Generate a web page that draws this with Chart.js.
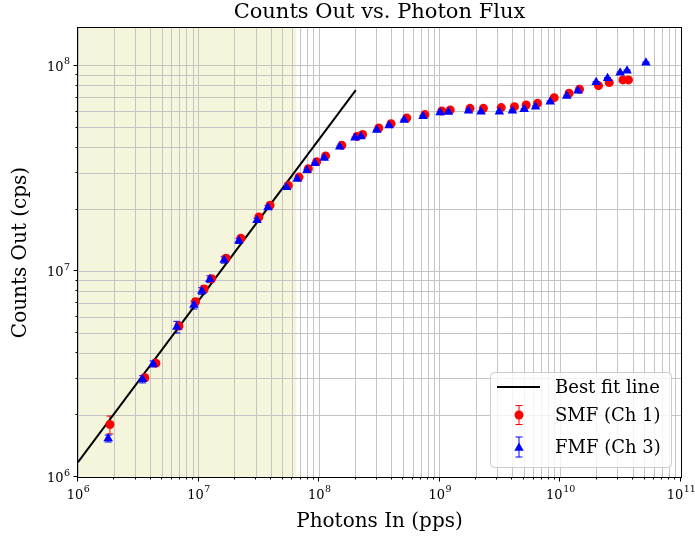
<!DOCTYPE html>
<html><head><meta charset="utf-8">
<script src="https://cdn.jsdelivr.net/npm/chart.js@4.4.0/dist/chart.umd.min.js"></script>
<style>html,body{margin:0;padding:0;background:#fff;}</style>
</head><body>
<canvas id="c" width="695" height="541"></canvas>
<script>
// ---- data ----
const smfX = [1.84e6, 3.58e6, 4.42e6, 6.87e6, 9.44e6, 1.11e7, 1.28e7, 1.69e7, 2.24e7, 3.16e7, 3.91e7, 5.54e7, 6.8e7, 8.13e7, 9.53e7, 1.13e8, 1.54e8, 2.06e8, 2.29e8, 3.12e8, 3.94e8, 5.32e8, 7.52e8, 1.04e9, 1.22e9, 1.78e9, 2.30e9, 3.23e9, 4.16e9, 5.2e9, 6.46e9, 8.88e9, 1.18e10, 1.44e10, 2.07e10, 2.54e10, 3.30e10, 3.67e10];
const smfY = [1.80e6, 3.04e6, 3.58e6, 5.43e6, 7.13e6, 8.22e6, 9.22e6, 1.16e7, 1.45e7, 1.84e7, 2.10e7, 2.62e7, 2.88e7, 3.16e7, 3.42e7, 3.65e7, 4.11e7, 4.54e7, 4.64e7, 4.99e7, 5.24e7, 5.58e7, 5.80e7, 6.04e7, 6.11e7, 6.22e7, 6.22e7, 6.27e7, 6.34e7, 6.46e7, 6.58e7, 7.01e7, 7.37e7, 7.70e7, 8.02e7, 8.30e7, 8.55e7, 8.55e7];
const smfErr = [0.18e6, 0.10e6, 0.10e6, 0.20e6, 0.25e6, 0.30e6, 0.30e6, 0.35e6, 0.40e6, 0.40e6, 0.40e6, 0.30e6, 0.30e6, 0.30e6, 0.30e6, 0.30e6, 0.40e6, 0.40e6, 0.40e6, 0.40e6, 0.40e6, 0.50e6, 0.50e6, 0.50e6, 0.50e6, 0.50e6, 0.50e6, 0.50e6, 0.50e6, 0.50e6, 0.50e6, 0.60e6, 0.60e6, 0.60e6, 0.70e6, 0.70e6, 0.70e6, 0.70e6];
const fmfX = [1.78e6, 3.43e6, 4.2e6, 6.6e6, 9.14e6, 1.065e7, 1.24e7, 1.63e7, 2.16e7, 3.05e7, 3.76e7, 5.37e7, 6.58e7, 7.92e7, 9.23e7, 1.10e8, 1.48e8, 1.98e8, 2.22e8, 3.0e8, 3.8e8, 5.06e8, 7.26e8, 1.006e9, 1.18e9, 1.73e9, 2.2e9, 3.12e9, 4.0e9, 5.01e9, 6.22e9, 8.23e9, 1.13e10, 1.40e10, 1.98e10, 2.46e10, 3.13e10, 3.57e10, 5.12e10];
const fmfY = [1.54e6, 2.99e6, 3.55e6, 5.37e6, 6.87e6, 8.04e6, 9.17e6, 1.138e7, 1.41e7, 1.775e7, 2.05e7, 2.57e7, 2.82e7, 3.11e7, 3.36e7, 3.57e7, 4.04e7, 4.47e7, 4.54e7, 4.88e7, 5.13e7, 5.46e7, 5.69e7, 5.93e7, 5.97e7, 6.06e7, 5.99e7, 5.99e7, 6.06e7, 6.15e7, 6.34e7, 6.7e7, 7.15e7, 7.58e7, 8.33e7, 8.71e7, 9.28e7, 9.49e7, 1.038e8];
const fmfErr = [0.06e6, 0.12e6, 0.12e6, 0.35e6, 0.30e6, 0.30e6, 0.35e6, 0.40e6, 0.40e6, 0.40e6, 0.40e6, 0.30e6, 0.30e6, 0.30e6, 0.30e6, 0.30e6, 0.40e6, 0.40e6, 0.40e6, 0.40e6, 0.40e6, 0.50e6, 0.50e6, 0.50e6, 0.50e6, 0.50e6, 0.50e6, 0.50e6, 0.50e6, 0.50e6, 0.50e6, 0.60e6, 0.60e6, 0.60e6, 0.70e6, 0.70e6, 0.70e6, 0.70e6, 0.80e6];
const fitX = [1e6, 2.01e8];
const fitY = [1.18e6, 7.62e7];
const shadeRange = [1e6, 6.45e7];
const xMajorTicks = [1e6, 1e7, 1e8, 1e9, 1e10, 1e11];
const xTickExps = ['6', '7', '8', '9', '10', '11'];
const yMajorTicks = [1e6, 1e7, 1e8];
const yTickExps = ['6', '7', '8'];
const minorMultipliers = [2, 3, 4, 5, 6, 7, 8, 9];
const xRange = [1e6, 1e11];
const yRange = [1e6, 1.53e8];

function allTicks(majors, lo, hi) {
  const out = [];
  majors.forEach(m => {
    out.push(m);
    minorMultipliers.forEach(k => { const v = m * k; if (v < hi * 1.0000001 && v >= lo) out.push(v); });
  });
  return out.filter(v => v <= hi * 1.0000001).sort((a, b) => a - b);
}
const xTickVals = allTicks(xMajorTicks, xRange[0], xRange[1]);
const yTickVals = allTicks(yMajorTicks, yRange[0], yRange[1]);

const SERIF = "'DejaVu Serif', serif";
const pts = (xs, ys) => xs.map((x, i) => ({x: x, y: ys[i]}));

function drawTriangle(ctx, x, y, r) {
  ctx.beginPath();
  let rad = 0;
  ctx.moveTo(x + Math.sin(rad) * r, y - Math.cos(rad) * r);
  rad += 2 * Math.PI / 3;
  ctx.lineTo(x + Math.sin(rad) * r, y - Math.cos(rad) * r);
  rad += 2 * Math.PI / 3;
  ctx.lineTo(x + Math.sin(rad) * r, y - Math.cos(rad) * r);
  ctx.closePath();
  ctx.fill();
}
function drawErr(ctx, x, yTop, yBot, color) {
  ctx.strokeStyle = color; ctx.lineWidth = 1;
  ctx.beginPath();
  ctx.moveTo(x, yTop); ctx.lineTo(x, yBot);
  ctx.moveTo(x - 3.5, yTop); ctx.lineTo(x + 3.5, yTop);
  ctx.moveTo(x - 3.5, yBot); ctx.lineTo(x + 3.5, yBot);
  ctx.stroke();
}

const deco = {
  id: 'deco',
  beforeDraw(chart) {
    const {ctx, chartArea: a, scales: {x: xs}} = chart;
    ctx.save();
    ctx.fillStyle = '#fff';
    ctx.fillRect(0, 0, chart.width, chart.height);
    const x0 = xs.getPixelForValue(shadeRange[0]);
    const x1 = xs.getPixelForValue(shadeRange[1]);
    ctx.fillStyle = '#f5f5dc';
    ctx.fillRect(x0, a.top, x1 - x0, a.bottom - a.top);
    ctx.restore();
  },
  beforeDatasetsDraw(chart) {
    const {ctx, scales: {x: xs, y: ys}} = chart;
    ctx.save();
    chart.data.datasets.forEach(ds => {
      if (!ds.errors) return;
      ds.data.forEach((p, i) => {
        const e = ds.errors[i];
        const px = xs.getPixelForValue(p.x);
        drawErr(ctx, px, ys.getPixelForValue(p.y + e), ys.getPixelForValue(p.y - e), ds.borderColor);
      });
    });
    ctx.restore();
  },
  afterDraw(chart) {
    const {ctx, chartArea: a, scales: {x: xs, y: ys}} = chart;
    ctx.save();
    // frame
    ctx.strokeStyle = '#000'; ctx.lineWidth = 1;
    ctx.strokeRect(Math.round(a.left) - 0.5, Math.round(a.top) - 0.5, Math.round(a.right - a.left) + 1, Math.round(a.bottom - a.top) + 1);
    // tick marks
    ctx.beginPath();
    xTickVals.forEach(v => {
      const px = Math.round(xs.getPixelForValue(v)) + 0.5 - 1;
      const len = xMajorTicks.includes(v) ? 4.5 : 2.5;
      ctx.moveTo(px, a.bottom); ctx.lineTo(px, a.bottom + len);
    });
    yTickVals.forEach(v => {
      const py = Math.round(ys.getPixelForValue(v)) + 0.5 - 1;
      const len = yMajorTicks.includes(v) ? 4.5 : 2.5;
      ctx.moveTo(a.left, py); ctx.lineTo(a.left - len, py);
    });
    ctx.stroke();
    // tick labels
    ctx.fillStyle = '#000';
    ctx.textBaseline = 'alphabetic';
    const baseFont = "13px " + SERIF, expFont = "9.5px " + SERIF;
    xMajorTicks.forEach((v, i) => {
      const px = xs.getPixelForValue(v);
      ctx.font = baseFont; const w1 = ctx.measureText('10').width;
      ctx.font = expFont; const w2 = ctx.measureText(xTickExps[i]).width;
      const start = px - (w1 + w2) / 2;
      ctx.font = baseFont; ctx.textAlign = 'left'; ctx.fillText('10', start, a.bottom + 21.5);
      ctx.font = expFont; ctx.fillText(xTickExps[i], start + w1 + 0.5, a.bottom + 15);
    });
    yMajorTicks.forEach((v, i) => {
      const py = ys.getPixelForValue(v);
      ctx.font = expFont; const w2 = ctx.measureText(yTickExps[i]).width;
      ctx.textAlign = 'right';
      ctx.fillText(yTickExps[i], a.left - 8, py - 1.5);
      ctx.font = baseFont;
      ctx.fillText('10', a.left - 8 - w2 - 0.5, py + 5);
    });
    // title
    ctx.font = "21px " + SERIF; ctx.textAlign = 'center'; ctx.textBaseline = 'middle';
    ctx.fillText('Counts Out vs. Photon Flux', (a.left + a.right) / 2, 13);
    // legend
    const lw = 181, lh = 95;
    const lx = a.right - 10 - lw, ly = a.bottom - 10 - lh;
    ctx.beginPath();
    ctx.roundRect(lx + 0.5, ly + 0.5, lw, lh, 4);
    ctx.fillStyle = 'rgba(255,255,255,0.8)'; ctx.fill();
    ctx.strokeStyle = '#cccccc'; ctx.lineWidth = 1; ctx.stroke();
    const ds = chart.data.datasets;
    const rows = [ly + 15, ly + 43, ly + 75];
    // line entry
    ctx.strokeStyle = ds[0].borderColor; ctx.lineWidth = 2;
    ctx.beginPath(); ctx.moveTo(lx + 7, rows[0]); ctx.lineTo(lx + 50, rows[0]); ctx.stroke();
    // SMF entry
    const mx = lx + 29;
    drawErr(ctx, mx, rows[1] - 9.5, rows[1] + 9.5, ds[1].borderColor);
    ctx.fillStyle = ds[1].backgroundColor;
    ctx.beginPath(); ctx.arc(mx, rows[1], 4.5, 0, Math.PI * 2); ctx.fill();
    // FMF entry
    drawErr(ctx, mx, rows[2] - 10, rows[2] + 10, ds[2].borderColor);
    ctx.fillStyle = ds[2].backgroundColor;
    drawTriangle(ctx, mx, rows[2] + 1, 5.5);
    // texts
    ctx.fillStyle = '#000'; ctx.font = "18px " + SERIF; ctx.textAlign = 'left'; ctx.textBaseline = 'middle';
    ds.forEach((d, i) => ctx.fillText(d.label, lx + 65, rows[i] + 1));
    ctx.restore();
  }
};

const gridCfg = {color: '#c4c4c4', lineWidth: 1, drawTicks: false};

new Chart(document.getElementById('c'), {
  type: 'scatter',
  data: {
    datasets: [
      {label: 'Best fit line', data: pts(fitX, fitY), showLine: true, borderColor: '#000000', borderWidth: 2, pointRadius: 0, order: 3},
      {label: 'SMF (Ch 1)', data: pts(smfX, smfY), errors: smfErr, backgroundColor: '#ff0000', borderColor: '#ff0000', borderWidth: 0, pointStyle: 'circle', pointRadius: 4.5, order: 2},
      {label: 'FMF (Ch 3)', data: pts(fmfX, fmfY), errors: fmfErr, backgroundColor: '#0000ff', borderColor: '#0000ff', borderWidth: 0, pointStyle: 'triangle', pointRadius: 5.5, order: 1}
    ]
  },
  options: {
    responsive: false, animation: false, devicePixelRatio: 1,
    layout: {padding: {left: 0, right: 14, top: 28, bottom: 0}},
    plugins: {legend: {display: false}, tooltip: {enabled: false}},
    scales: {
      x: {
        type: 'logarithmic', min: xRange[0], max: xRange[1], position: 'bottom',
        grid: gridCfg, border: {display: false}, ticks: {display: false},
        title: {display: true, text: 'Photons In (pps)', color: '#000', font: {family: SERIF, size: 20}, padding: {top: 0, bottom: 7}},
        afterBuildTicks: s => { s.ticks = xTickVals.map(v => ({value: v})); },
        afterFit: s => { s.height = 64; }
      },
      y: {
        type: 'logarithmic', min: yRange[0], max: yRange[1], position: 'left',
        grid: gridCfg, border: {display: false}, ticks: {display: false},
        title: {display: true, text: 'Counts Out (cps)', color: '#000', font: {family: SERIF, size: 20}, padding: {top: 9, bottom: 0}},
        afterBuildTicks: s => { s.ticks = yTickVals.map(v => ({value: v})); },
        afterFit: s => { s.width = 78; }
      }
    }
  },
  plugins: [deco]
});
</script>
</body></html>
